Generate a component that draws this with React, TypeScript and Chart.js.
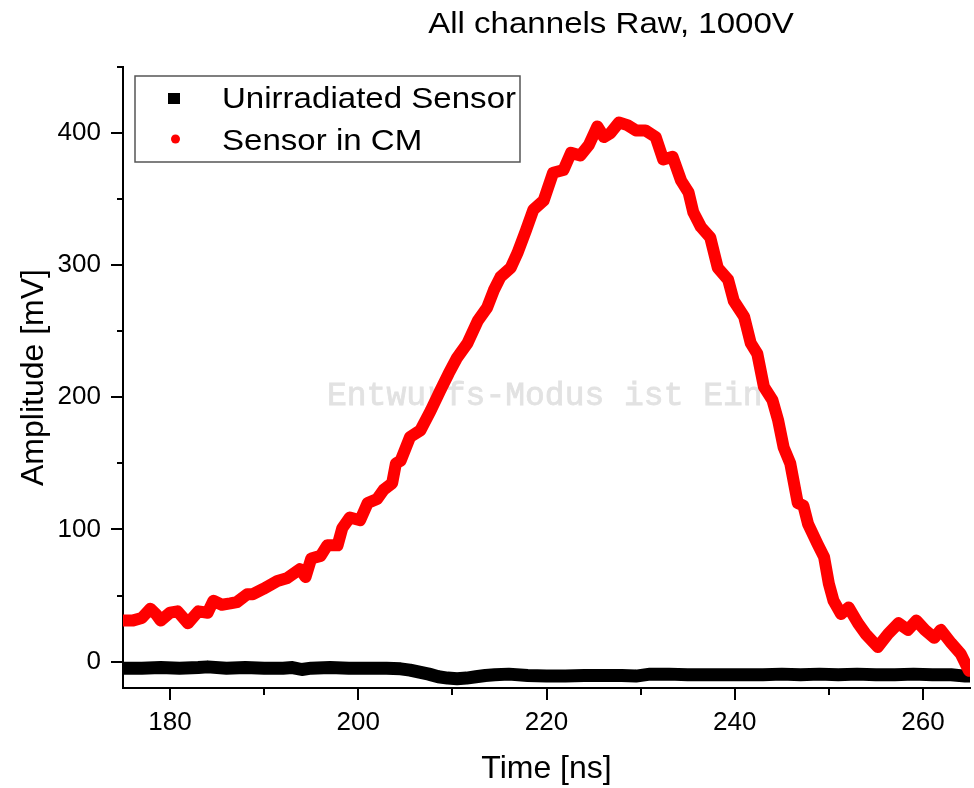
import React, { useEffect, useRef } from "react";
import { Chart, registerables } from "chart.js";

Chart.register(...registerables);

const chartTitle = "All channels Raw, 1000V";
const xTitle = "Time [ns]";
const yTitle = "Amplitude [mV]";
const seriesNames = ["Unirradiated Sensor", "Sensor in CM"];
const watermark = "Entwurfs-Modus ist Ein";

// Sensor in CM (red)
const redTime = [
  175.0, 176.0, 177.0, 177.9, 178.5, 179.0, 180.0, 180.8, 181.9, 183.0, 184.0, 184.6,
  185.5, 186.4, 187.1, 188.2, 188.8, 189.9, 191.4, 192.4, 193.8, 194.4, 195.0, 196.0,
  196.7, 197.8, 198.3, 199.1, 200.2, 201.0, 202.0, 202.7, 203.6, 204.0, 204.5, 205.5,
  206.6, 207.7, 208.7, 209.6, 210.5, 211.6, 212.7, 213.7, 214.4, 215.1, 216.2, 216.9,
  217.8, 218.6, 219.7, 220.7, 221.8, 222.6, 223.6, 224.5, 225.4, 226.1, 226.8, 227.7,
  228.6, 229.5, 230.5, 231.6, 232.4, 233.4, 234.3, 235.1, 235.6, 236.4, 237.4, 238.2,
  239.3, 239.9, 241.0, 241.7, 242.4, 243.1, 244.0, 244.6, 245.2, 245.9, 246.7, 247.3,
  247.8, 248.8, 249.5, 250.0, 250.5, 251.3, 252.1, 253.1, 253.9, 255.2, 256.3, 257.4,
  258.4, 259.3, 260.2, 261.2, 261.9, 263.0, 264.0, 264.9,
];
const redAmp = [
  31, 31, 33, 40, 36, 31, 37, 38, 29, 38, 37, 46,
  43, 44, 45, 51, 51, 55, 61, 63, 70, 64, 78, 80,
  88, 88, 101, 109, 107, 120, 123, 130, 135, 150, 152, 170,
  175, 190, 205, 218, 230, 241, 258, 268, 281, 291, 298, 309,
  326, 342, 349, 370, 372, 385, 383, 391, 405, 397, 400, 408,
  406, 402, 402, 397, 380, 382, 364, 355, 340, 329, 321, 298,
  289, 273, 261, 241, 233, 208, 198, 183, 162, 150, 120, 118,
  104, 89, 79, 59, 46, 36, 41, 29, 21, 11, 21, 29,
  24, 31, 24, 18, 24, 14, 6, -7,
];

// Unirradiated Sensor (black)
const blackTime = [
  175, 177, 179, 181, 183, 184, 186, 188, 190, 192, 193, 194, 195, 197, 199, 201, 203,
  204.5, 205.5, 206.5, 207.5, 208.5, 209.5, 210.5, 211.5, 212.5, 213.5, 214.5, 216, 218,
  220, 222, 224, 226, 228, 229.5, 231, 233, 235, 237, 239, 241, 243, 245, 247, 249, 251,
  253, 255, 257, 259, 261, 263, 264.5, 265,
];
const blackAmp = [
  -5, -5, -4.5, -5, -4.5, -4, -5, -4.5, -5, -5, -4.5, -6, -5, -4.5, -5, -5, -5,
  -5.5, -6.5, -8, -9.5, -11.5, -12.5, -13, -12.5, -11.5, -10.5, -10, -9.5, -10.5,
  -11, -11, -10.5, -10.5, -10.5, -11, -9.5, -9.5, -10, -10, -10, -10, -10, -9.5, -10, -9.5, -10,
  -9.5, -10, -10, -9.5, -10, -10, -11, -11,
];

const xMin = 175;
const xMax = 265;
const yMin = -20;
const yMax = 450;
const xMajorStep = 20;
const yMajorStep = 100;
const xMinorTicks = [190, 210, 230, 250];
const yMinorTicks = [50, 150, 250, 350, 450];

const SANS = '"Liberation Sans", Arial, sans-serif';

function stretchedText(ctx: CanvasRenderingContext2D, text: string, x: number, y: number, sx: number, align: CanvasTextAlign) {
  ctx.save();
  ctx.translate(x, y);
  ctx.scale(sx, 1);
  ctx.textAlign = align;
  ctx.textBaseline = "alphabetic";
  ctx.fillText(text, 0, 0);
  ctx.restore();
}

const decorPlugin = {
  id: "decor",
  beforeDatasetsDraw(chart: any) {
    const { ctx, chartArea } = chart;
    ctx.save();
    ctx.font = '33px "Liberation Mono", "DejaVu Sans Mono", monospace';
    ctx.fillStyle = "#e2e2e2";
    ctx.strokeStyle = "#e2e2e2";
    ctx.lineWidth = 0.8;
    ctx.textAlign = "left";
    ctx.textBaseline = "alphabetic";
    ctx.fillText(watermark, chartArea.left + 204, 405);
    ctx.strokeText(watermark, chartArea.left + 204, 405);
    ctx.restore();
  },
  afterDraw(chart: any) {
    const { ctx, chartArea } = chart;
    const xs = chart.scales.x;
    const ys = chart.scales.y;
    ctx.save();
    ctx.strokeStyle = "#000";
    ctx.lineWidth = 2;
    ctx.beginPath();
    for (const v of xMinorTicks) {
      const px = Math.round(xs.getPixelForValue(v));
      ctx.moveTo(px, chartArea.bottom);
      ctx.lineTo(px, chartArea.bottom + 7);
    }
    for (const v of yMinorTicks) {
      const py = Math.round(ys.getPixelForValue(v));
      ctx.moveTo(chartArea.left - 6, py);
      ctx.lineTo(chartArea.left, py);
    }
    ctx.stroke();

    // title
    ctx.fillStyle = "#000";
    ctx.font = `29px ${SANS}`;
    stretchedText(ctx, chartTitle, 611, 33, 1.14, "center");

    // legend
    const bx = 135, by = 76, bw = 385, bh = 86;
    ctx.fillStyle = "#fff";
    ctx.fillRect(bx, by, bw, bh);
    ctx.strokeStyle = "#555";
    ctx.lineWidth = 1.5;
    ctx.strokeRect(bx, by, bw, bh);
    ctx.fillStyle = "#000";
    ctx.fillRect(168, 93, 12, 11);
    ctx.fillStyle = "#ff0000";
    ctx.beginPath();
    ctx.arc(175.5, 139, 4.5, 0, Math.PI * 2);
    ctx.fill();
    ctx.fillStyle = "#000";
    ctx.font = `29px ${SANS}`;
    stretchedText(ctx, seriesNames[0], 222, 108, 1.14, "left");
    stretchedText(ctx, seriesNames[1], 222, 150, 1.14, "left");
    ctx.restore();
  },
};

export default function App() {
  const canvasRef = useRef<HTMLCanvasElement | null>(null);

  useEffect(() => {
    const canvas = canvasRef.current;
    if (!canvas) return;
    const red = redTime.map((t, i) => ({ x: t, y: redAmp[i] }));
    const black = blackTime.map((t, i) => ({ x: t, y: blackAmp[i] }));
    const chart = new Chart(canvas, {
      type: "line",
      data: {
        datasets: [
          {
            label: seriesNames[1],
            data: red,
            borderColor: "#ff0000",
            backgroundColor: "#ff0000",
            borderWidth: 12,
            pointRadius: 0,
            tension: 0,
            borderJoinStyle: "round",
            borderCapStyle: "round",
            clip: 0,
            order: 0,
          },
          {
            label: seriesNames[0],
            data: black,
            borderColor: "#000000",
            backgroundColor: "#000000",
            borderWidth: 13,
            pointRadius: 0,
            tension: 0,
            borderJoinStyle: "round",
            borderCapStyle: "butt",
            clip: 0,
            order: 1,
          },
        ],
      },
      options: {
        animation: false,
        responsive: false,
        maintainAspectRatio: false,
        layout: { padding: { top: 67, right: 4, left: 0, bottom: 0 } },
        plugins: {
          legend: { display: false },
          title: { display: false },
          tooltip: { enabled: false },
        },
        scales: {
          x: {
            type: "linear",
            min: xMin,
            max: xMax,
            afterFit: (s: any) => {
              s.height = 100;
            },
            ticks: {
              stepSize: xMajorStep,
              includeBounds: false,
              color: "#000",
              padding: 7,
              font: { family: SANS, size: 26 },
              maxRotation: 0,
            },
            grid: {
              display: true,
              drawOnChartArea: false,
              drawTicks: true,
              tickLength: 12,
              lineWidth: 2,
              color: "#000",
            },
            border: { display: true, color: "#000", width: 2 },
            title: {
              display: true,
              text: xTitle,
              color: "#000",
              font: { family: SANS, size: 32 },
              padding: { top: 0, bottom: 0 },
            },
          },
          y: {
            type: "linear",
            min: yMin,
            max: yMax,
            afterFit: (s: any) => {
              s.width = 123;
            },
            ticks: {
              stepSize: yMajorStep,
              includeBounds: false,
              color: "#000",
              padding: 10,
              font: { family: SANS, size: 26 },
            },
            grid: {
              display: true,
              drawOnChartArea: false,
              drawTicks: true,
              tickLength: 12,
              lineWidth: 2,
              color: "#000",
            },
            border: { display: true, color: "#000", width: 2 },
            title: {
              display: true,
              text: yTitle,
              color: "#000",
              font: { family: SANS, size: 32 },
              padding: { top: 15, bottom: 0 },
            },
          },
        },
      },
      plugins: [decorPlugin],
    } as any);
    return () => chart.destroy();
  }, []);

  return (
    <div style={{ position: "fixed", left: 0, top: 0, width: 974, height: 788, background: "#fff" }}>
      <canvas ref={canvasRef} width={974} height={788} style={{ width: 974, height: 788, display: "block" }} />
    </div>
  );
}
